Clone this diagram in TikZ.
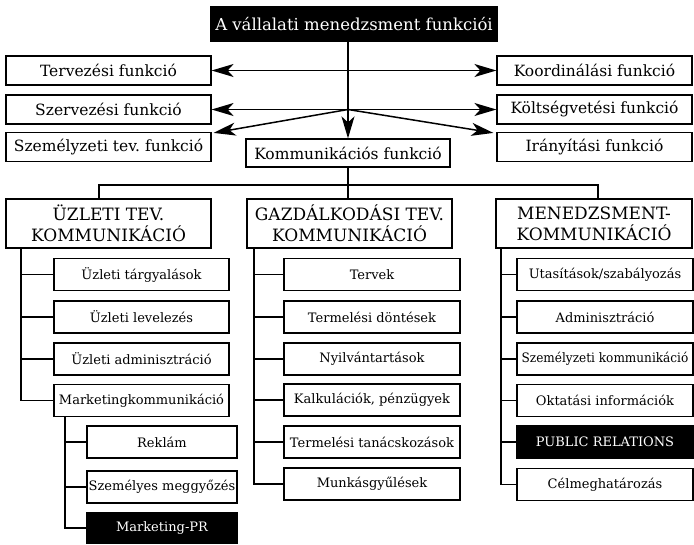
\documentclass[tikz,border=0pt]{standalone}
\usepackage{fontspec}
\setmainfont{DejaVu Serif}
\usetikzlibrary{arrows.meta}
\begin{document}
\begin{tikzpicture}[x=1pt,y=-1pt,
  box/.style={draw, line width=1.2pt, inner sep=0pt, align=center},
  fbox/.style={box, minimum height=29pt, font=\fontsize{15.5}{18}\selectfont},
  hbox/.style={box, minimum height=49pt, minimum width=205pt, font=\fontsize{17}{21}\selectfont},
  cbox/.style={box, minimum height=32pt, font=\fontsize{13}{15}\selectfont},
  dark/.style={fill=black, text=white},
  tip/.style={Stealth[length=22pt,width=13pt,inset=6pt]},
  arr/.style={line width=1.5pt, -{Stealth[length=22pt,width=13pt,inset=6pt]}},
  darr/.style={line width=1.5pt, {Stealth[length=22pt,width=13pt,inset=6pt]}-{Stealth[length=22pt,width=13pt,inset=6pt]}},
  link/.style={line width=1.3pt}]
\useasboundingbox (0,0) rectangle (694,544);

% management functions
\node[fbox, dark, minimum width=286pt, minimum height=34pt, font=\fontsize{16.5}{18}\selectfont] (title) at (354,24) {A vállalati menedzsment funkciói};
\node[fbox, minimum width=205pt] (terv)  at (108.5,70.5) {Tervezési funkció};
\node[fbox, minimum width=205pt] (szerv) at (108.5,109.5) {Szervezési funkció};
\node[fbox, minimum width=205pt] (szem)  at (108.5,147) {Személyzeti tev.\ funkció};
\node[fbox, minimum width=195pt] (koord) at (594.5,70.5) {Koordinálási funkció};
\node[fbox, minimum width=195pt] (kolt)  at (594.5,109.5) {Költségvetési funkció};
\node[fbox, minimum width=195pt] (irany) at (594.5,147) {Irányítási funkció};
\node[fbox, minimum width=204pt, minimum height=28pt] (komm) at (348,153) {Kommunikációs funkció};

\coordinate (hub) at (komm.north |- szerv.east);
\draw[darr] (terv.east) -- (koord.west);
\draw[darr] (szerv.east) -- (kolt.west);
\draw[arr] (hub) -- ([xshift=2pt,yshift=-1pt]szem.north east);
\draw[arr] (hub) -- ([xshift=-3pt,yshift=-1pt]irany.north west);
\draw[arr] (komm.north |- title.south) -- (komm.north);

% communication areas
\node[hbox] (uzl)  at (108.5,223.5) {ÜZLETI TEV.\\KOMMUNIKÁCIÓ};
\node[hbox] (gazd) at (349.5,223.5) {GAZDÁLKODÁSI TEV.\\KOMMUNIKÁCIÓ};
\node[hbox, minimum width=196pt] (men) at (594,223.5) {MENEDZSMENT-\\KOMMUNIKÁCIÓ};

\coordinate (bl) at (99,185);
\coordinate (br) at (598,185);
\draw[link] (uzl.north -| bl) -- (bl) -- (br) -- (men.north -| br);
\draw[link] (komm.south) -- (komm.south |- gazd.north);

% business communication
\begin{scope}[every node/.style={cbox, minimum width=175pt}]
\node (u1) at (141.5,274.5) {Üzleti tárgyalások};
\node (u2) at (141.5,317) {Üzleti levelezés};
\node (u3) at (141.5,359) {Üzleti adminisztráció};
\node (u4) at (141.5,400.5) {Marketingkommunikáció};
\end{scope}
\coordinate (sl) at (21,0);
\draw[link] (sl |- uzl.south) |- (u4.west);
\foreach \n in {u1,u2,u3} \draw[link] (sl |- \n.west) -- (\n.west);

\begin{scope}[every node/.style={cbox, minimum width=150pt}]
\node (k1) at (162,442) {Reklám};
\node (k2) at (162,487) {Személyes meggyőzés};
\node[dark, minimum height=31pt] (k3) at (162,528) {Marketing-PR};
\end{scope}
\coordinate (sk) at (65,0);
\draw[link] (sk |- u4.south) |- (k3.west);
\foreach \n in {k1,k2} \draw[link] (sk |- \n.west) -- (\n.west);

% economic communication
\begin{scope}[every node/.style={cbox, minimum width=176pt}]
\node (g1) at (372,274.5) {Tervek};
\node (g2) at (372,317) {Termelési döntések};
\node (g3) at (372,359) {Nyilvántartások};
\node (g4) at (372,400) {Kalkulációk, pénzügyek};
\node (g5) at (372,442) {Termelési tanácskozások};
\node (g6) at (372,484) {Munkásgyűlések};
\end{scope}
\coordinate (sg) at (254,0);
\draw[link] (sg |- gazd.south) |- (g6.west);
\foreach \n in {g1,g2,g3,g4,g5} \draw[link] (sg |- \n.west) -- (\n.west);

% management communication
\begin{scope}[every node/.style={cbox, minimum width=176pt}]
\node (m1) at (605,274.5) {Utasítások/szabályozás};
\node (m2) at (605,317) {Adminisztráció};
\node (m3) at (605,359) {\scalebox{0.93}[1]{Személyzeti kommunikáció}};
\node (m4) at (605,400.5) {Oktatási információk};
\node[dark] (m5) at (605,442) {PUBLIC RELATIONS};
\node (m6) at (605,484.5) {Célmeghatározás};
\end{scope}
\coordinate (sm) at (501,0);
\draw[link] (sm |- men.south) |- (m6.west);
\foreach \n in {m1,m2,m3,m4,m5} \draw[link] (sm |- \n.west) -- (\n.west);
\end{tikzpicture}
\end{document}
